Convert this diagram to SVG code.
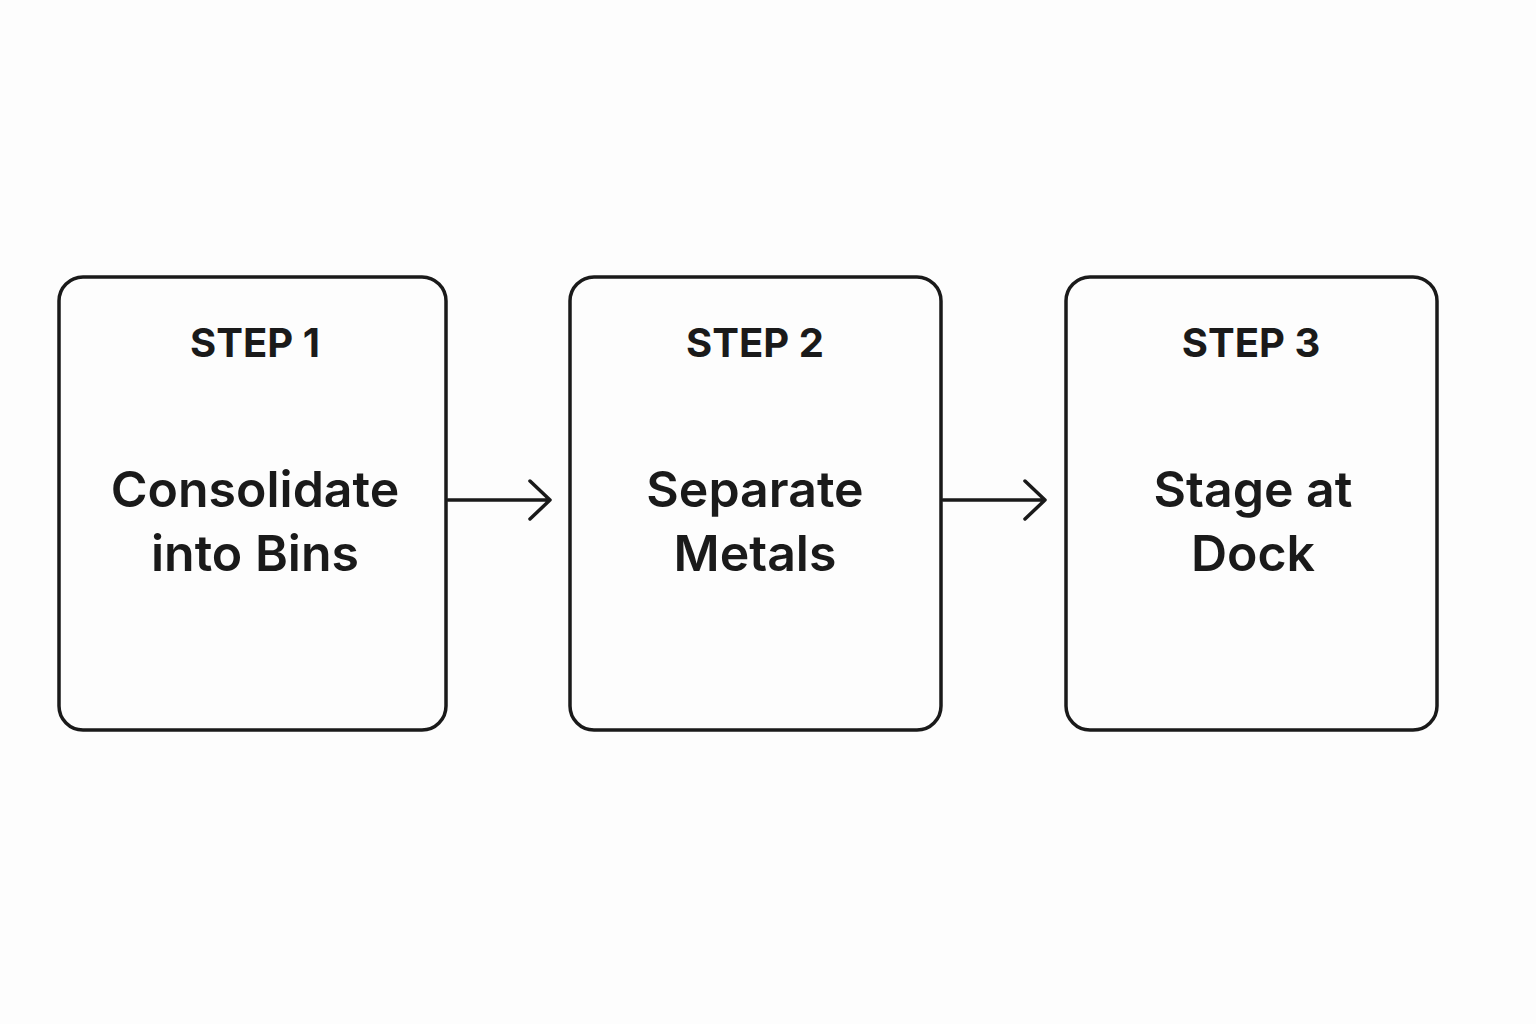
<svg xmlns="http://www.w3.org/2000/svg" width="1536" height="1024" viewBox="0 0 1536 1024">
<style>
.box{fill:#fdfdfd;stroke:#1a1a1a;stroke-width:3.5}
.step{font-family:Inter,"Liberation Sans",sans-serif;font-weight:700;font-size:40px;fill:#1a1a1a;text-anchor:middle}
.main{font-family:Inter,"Liberation Sans",sans-serif;font-weight:600;font-size:50px;fill:#1a1a1a;text-anchor:middle}
.conn{fill:none;stroke:#1a1a1a;stroke-width:3.5;stroke-linecap:round;stroke-linejoin:round}
</style>
<rect width="1536" height="1024" fill="#fdfdfd"/>
<g id="step1">
<rect class="box" x="59" y="277" width="387" height="453" rx="24"/>
<text class="step" x="255" y="357">STEP 1</text>
<text class="main" x="255" y="507">Consolidate</text>
<text class="main" x="255" y="571">into Bins</text>
</g>
<g id="step2">
<rect class="box" x="570" y="277" width="371" height="453" rx="24"/>
<text class="step" x="755" y="357">STEP 2</text>
<text class="main" x="755" y="507">Separate</text>
<text class="main" x="755" y="571">Metals</text>
</g>
<g id="step3">
<rect class="box" x="1066" y="277" width="371" height="453" rx="24"/>
<text class="step" x="1251" y="357">STEP 3</text>
<text class="main" x="1253" y="507">Stage at</text>
<text class="main" x="1253" y="571">Dock</text>
</g>
<g id="connectors">
<path class="conn" d="M448 500H550M530 481L550 500L530 519"/>
<path class="conn" d="M943 500H1045M1025 481L1045 500L1025 519"/>
</g>
</svg>
